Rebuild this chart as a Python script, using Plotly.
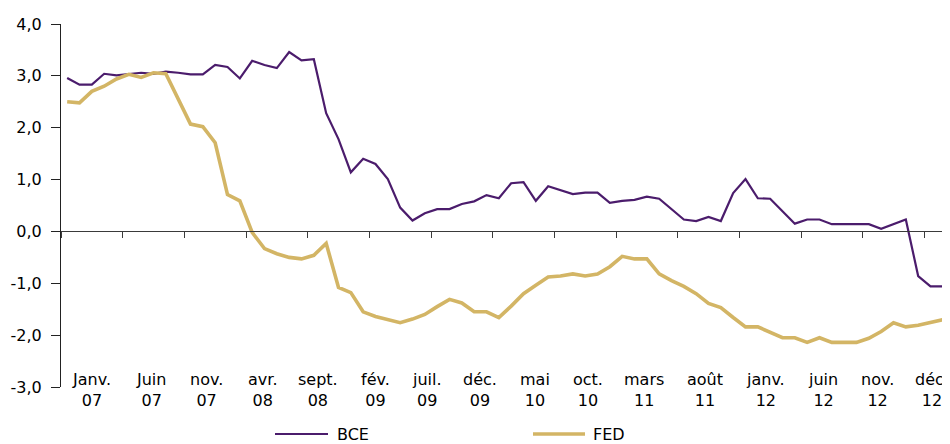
import plotly.graph_objects as go

# ---- data -------------------------------------------------------------
mois = ["janv.", "févr.", "mars", "avr.", "mai", "juin",
        "juil.", "août", "sept.", "oct.", "nov.", "déc."]
annees = ["07", "08", "09", "10", "11", "12"]
months = [f"{m} {a}" for a in annees for m in mois]

bce = [2.96, 2.83, 2.83, 3.04, 3.01, 3.04, 3.06, 3.04, 3.08, 3.06, 3.03, 3.03,
       3.21, 3.17, 2.95, 3.29, 3.21, 3.15, 3.46, 3.30, 3.32, 2.28, 1.78, 1.14,
       1.40, 1.30, 1.01, 0.46, 0.21, 0.35, 0.43, 0.43, 0.53, 0.58, 0.70, 0.64,
       0.93, 0.95, 0.59, 0.87, 0.79, 0.72, 0.75, 0.75, 0.55, 0.59, 0.61, 0.67,
       0.63, 0.43, 0.23, 0.20, 0.28, 0.20, 0.74, 1.01, 0.64, 0.63, 0.39, 0.15,
       0.23, 0.23, 0.14, 0.14, 0.14, 0.14, 0.05, 0.14, 0.23, -0.86, -1.06, -1.06]

fed = [2.50, 2.48, 2.70, 2.80, 2.94, 3.03, 2.97, 3.06, 3.04, 2.56, 2.07, 2.02,
       1.71, 0.71, 0.59, -0.02, -0.33, -0.43, -0.50, -0.53, -0.46, -0.23, -1.08, -1.18,
       -1.55, -1.64, -1.70, -1.76, -1.69, -1.60, -1.45, -1.31, -1.38, -1.55, -1.55, -1.66,
       -1.44, -1.20, -1.04, -0.88, -0.86, -0.82, -0.86, -0.82, -0.68, -0.48, -0.53, -0.53,
       -0.82, -0.95, -1.06, -1.20, -1.39, -1.47, -1.66, -1.84, -1.84, -1.94, -2.05, -2.05,
       -2.14, -2.05, -2.14, -2.14, -2.14, -2.06, -1.93, -1.76, -1.84, -1.81, -1.76, -1.70]

tick_top = ["Janv.", "Juin", "nov.", "avr.", "sept.", "fév.", "juil.", "déc.",
            "mai", "oct.", "mars", "août", "janv.", "juin", "nov.", "déc."]
tick_bottom = ["07", "07", "07", "08", "08", "09", "09", "09",
               "10", "10", "11", "11", "12", "12", "12", "12"]
y_ticks = [-3, -2, -1, 0, 1, 2, 3, 4]
y_tick_text = ["-3,0", "-2,0", "-1,0", "0,0", "1,0", "2,0", "3,0", "4,0"]

# ---- layout constants (positions / styles) ----------------------------
label_pos = [2.0, 6.8, 11.3, 15.8, 20.3, 25.0, 29.2, 33.5,
             37.9, 42.2, 46.8, 51.7, 56.6, 61.3, 65.7, 70.1]
PURPLE = "#4B1C6C"
GOLD = "#D3B565"
FONT = "DejaVu Sans"
FS = 16
BODY = 8  # default page body margin offsets the figure

x = list(range(len(months)))

fig = go.Figure()
fig.add_trace(go.Scatter(x=x, y=bce, mode="lines", name="BCE",
                         customdata=months,
                         line=dict(color=PURPLE, width=2.2),
                         hovertemplate="%{customdata}: %{y:.2f}<extra>BCE</extra>"))
fig.add_trace(go.Scatter(x=x, y=fed, mode="lines", name="FED",
                         customdata=months,
                         line=dict(color=GOLD, width=3.6),
                         hovertemplate="%{customdata}: %{y:.2f}<extra>FED</extra>"))

ymin, ymax = -3, 4
zero_pos = (0 - ymin) / (ymax - ymin)

fig.update_layout(
    width=950 - BODY, height=444 - BODY,
    margin=dict(l=61 - BODY, r=1, t=24 - BODY, b=57),
    paper_bgcolor="white", plot_bgcolor="white",
    separators=", ",
    showlegend=False,
    font=dict(family=FONT, size=FS, color="black"),
    xaxis=dict(range=[-0.5, len(months) - 0.5],
               anchor="free", position=zero_pos,
               showline=True, linecolor="#3a3a3a", linewidth=1,
               ticks="outside", ticklen=6, tickwidth=1, tickcolor="#3a3a3a",
               tickvals=[k * 5 - 0.5 for k in range(15)],
               showticklabels=False, showgrid=False, zeroline=False),
    yaxis=dict(range=[ymin, ymax], tickvals=y_ticks, ticktext=y_tick_text,
               showline=True, linecolor="#222", linewidth=1,
               ticks="outside", ticklen=9, tickwidth=1, tickcolor="#222",
               ticklabelstandoff=6,
               showgrid=False, zeroline=False,
               tickfont=dict(family=FONT, size=FS, color="black")),
)

plot_h = 387 - 24


def py(px):
    return (387 - px) / plot_h


for pos, t1, t2 in zip(label_pos, tick_top, tick_bottom):
    fig.add_annotation(x=pos, y=py(389.5), xref="x", yref="paper",
                       text=f"{t1}<br>{t2}",
                       showarrow=False, xanchor="center", yanchor="middle",
                       font=dict(family=FONT, size=FS, color="black"))


def pxp(px):
    return (px - 61) / 888


# legend drawn manually
for (x0, x1, xt, name, col, w) in [(275, 328, 335, "BCE", PURPLE, 2.2),
                                   (533, 585, 591, "FED", GOLD, 3.6)]:
    fig.add_shape(type="line", xref="paper", yref="paper",
                  x0=pxp(x0), x1=pxp(x1), y0=py(434), y1=py(434),
                  line=dict(color=col, width=w))
    fig.add_annotation(x=pxp(xt), y=py(434), xref="paper", yref="paper",
                       text=name, showarrow=False, xanchor="left", yanchor="middle",
                       font=dict(family=FONT, size=FS, color="black"))

fig.write_html("out.html")
